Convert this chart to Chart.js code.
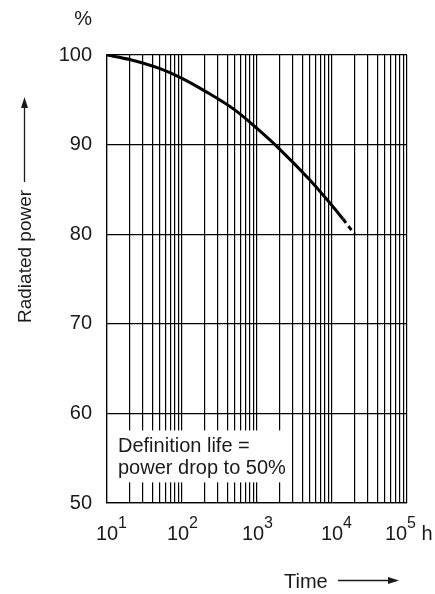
<!DOCTYPE html>
<html>
<head>
<meta charset="utf-8">
<script src="https://cdn.jsdelivr.net/npm/chart.js@4"></script>
<style>
html,body{margin:0;padding:0;background:#fff;}
#wrap{width:435px;height:594px;position:relative;}
</style>
</head>
<body>
<div id="wrap"><canvas id="c" width="435" height="594"></canvas></div>
<script>
// ---- data ----
const timeHours   = [10, 20, 50, 100, 200, 500, 1000, 2000, 5000, 10000, 14000];
const powerPct    = [100, 99.5, 98.5, 97.4, 96.0, 93.9, 91.8, 89.5, 86.1, 83.2, 81.7];
const dashedHours = [14000, 20000];
const dashedPct   = [81.7, 80];
const yTicks      = [50, 60, 70, 80, 90, 100];
const decadeExps  = [1, 2, 3, 4, 5];
const xUnit       = 'h';
const yUnit       = '%';
const yTitle      = 'Radiated power';
const xTitle      = 'Time';
const noteLines   = ['Definition life =', 'power drop to 50%'];

const FONT = '"Liberation Sans", Arial, Helvetica, sans-serif';
const INK = '#1a1a1a';

// all grid positions: 1..9 x 10^k between 10 and 10^5
const gridValues = [];
for (let e = 1; e <= 4; e++) for (let m = 1; m <= 9; m++) gridValues.push(m * Math.pow(10, e));
gridValues.push(Math.pow(10, 5));

const decor = {
  id: 'decor',
  beforeDatasetsDraw(chart) {
    const ctx = chart.ctx, x = chart.scales.x, y = chart.scales.y;
    // white note box over the grid
    const left = x.left + 1, top = y.getPixelForValue(58.1), right = x.getPixelForValue(2700), bot = y.getPixelForValue(52.3);
    ctx.save();
    ctx.fillStyle = '#fff';
    ctx.fillRect(left, top, right - left, bot - top);
    ctx.fillStyle = INK;
    ctx.font = '20px ' + FONT;
    ctx.textBaseline = 'alphabetic';
    ctx.textAlign = 'left';
    ctx.fillText(noteLines[0], x.left + 11, top + 22);
    ctx.fillText(noteLines[1], x.left + 11, top + 44);
    ctx.restore();
  },
  afterDraw(chart) {
    const ctx = chart.ctx, x = chart.scales.x, y = chart.scales.y;
    ctx.save();
    ctx.fillStyle = INK;
    ctx.strokeStyle = INK;
    // x tick labels 10^k
    const baseY = y.bottom + 37;
    decadeExps.forEach((e, i) => {
      const px = x.getPixelForValue(Math.pow(10, e));
      ctx.font = '20px ' + FONT;
      const w10 = ctx.measureText('10').width;
      ctx.font = '16px ' + FONT;
      const we = ctx.measureText(String(e)).width;
      let sx = px - w10 / 2 - (i === 0 || i === 3 ? 0 : 4);
      if (i === 4) sx = px - w10 / 2 - 11;
      ctx.font = '20px ' + FONT;
      ctx.textAlign = 'left';
      ctx.fillText('10', sx, baseY);
      ctx.font = '16px ' + FONT;
      ctx.fillText(String(e), sx + w10, baseY - 12);
      if (i === 4) {
        ctx.font = '20px ' + FONT;
        ctx.fillText(' ' + xUnit, sx + w10 + we, baseY);
      }
    });
    // % unit
    ctx.font = '20px ' + FONT;
    ctx.textAlign = 'right';
    ctx.fillText(yUnit, 92, 25);
    // x title and arrow
    ctx.textAlign = 'left';
    ctx.fillText(xTitle, 284, 588);
    ctx.lineWidth = 1.3;
    ctx.beginPath(); ctx.moveTo(338, 580.5); ctx.lineTo(392, 580.5); ctx.stroke();
    ctx.beginPath(); ctx.moveTo(399, 580.5); ctx.lineTo(388, 577); ctx.lineTo(388, 584); ctx.closePath(); ctx.fill();
    // y title and arrow (rotated)
    ctx.save();
    ctx.font = '19px ' + FONT;
    ctx.translate(31, 323);
    ctx.rotate(-Math.PI / 2);
    ctx.textAlign = 'left';
    ctx.fillText(yTitle, 0, 0);
    ctx.restore();
    ctx.beginPath(); ctx.moveTo(24.5, 182); ctx.lineTo(24.5, 104); ctx.stroke();
    ctx.beginPath(); ctx.moveTo(24.5, 97); ctx.lineTo(21, 108); ctx.lineTo(28, 108); ctx.closePath(); ctx.fill();
    ctx.restore();
  }
};

const toPts = (xs, ys) => xs.map((v, i) => ({x: v, y: ys[i]}));

new Chart(document.getElementById('c'), {
  type: 'line',
  data: {
    datasets: [
      { data: toPts(timeHours, powerPct), borderColor: '#000', borderWidth: 3, pointRadius: 0, cubicInterpolationMode: 'monotone', fill: false, borderCapStyle: 'butt' },
      { data: toPts(dashedHours, dashedPct), borderColor: '#000', borderWidth: 3, pointRadius: 0, borderDash: [5, 4], fill: false }
    ]
  },
  options: {
    responsive: false,
    animation: false,
    events: [],
    layout: { padding: { left: 0, right: 28, top: 55, bottom: 0 } },
    plugins: { legend: { display: false }, tooltip: { enabled: false }, title: { display: false } },
    scales: {
      x: {
        type: 'logarithmic', min: 10, max: 100000,
        afterBuildTicks(s) { s.ticks = gridValues.map(v => ({ value: v })); },
        afterFit(s) { s.height = 91; },
        ticks: { display: false, autoSkip: false },
        grid: { color: '#000', lineWidth: 1.2, drawTicks: false },
        border: { display: true, color: '#000', width: 1.2 }
      },
      y: {
        type: 'linear', min: 50, max: 100,
        afterBuildTicks(s) { s.ticks = yTicks.map(v => ({ value: v })); },
        afterFit(s) { s.width = 107; },
        ticks: { color: INK, font: { family: FONT, size: 20 }, padding: 15 },
        grid: { color: '#000', lineWidth: 1.2, drawTicks: false },
        border: { display: true, color: '#000', width: 1.2 }
      }
    }
  },
  plugins: [decor]
});
</script>
</body>
</html>
